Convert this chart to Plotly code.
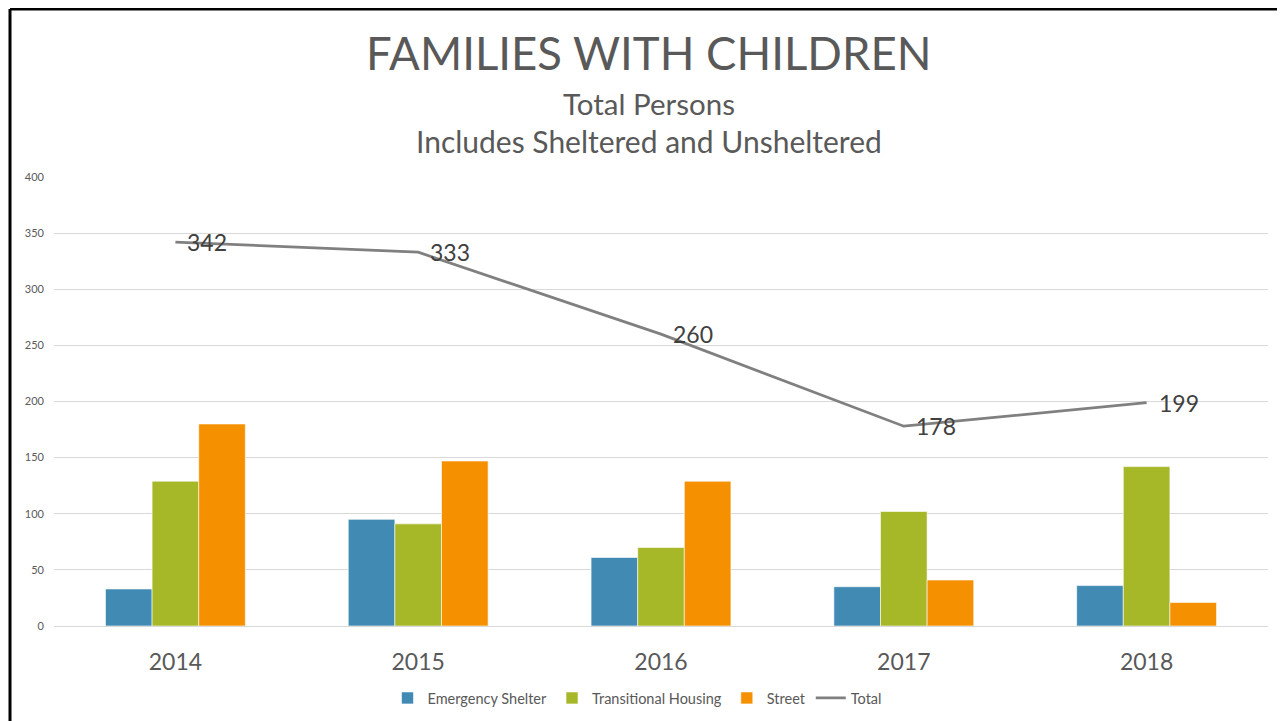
import plotly.graph_objects as go

years = ["2014", "2015", "2016", "2017", "2018"]
emergency_shelter = [33, 95, 61, 35, 36]
transitional_housing = [129, 91, 70, 102, 142]
street = [180, 147, 129, 41, 21]
total = [342, 333, 260, 178, 199]

y_ticks = [0, 50, 100, 150, 200, 250, 300, 350, 400]

FONT = "Lato"
GRAY = "#595959"

fig = go.Figure()
fig.add_trace(go.Bar(name="Emergency Shelter", x=years, y=emergency_shelter,
                     marker=dict(color="#418AB3", line=dict(color="rgba(255,255,255,0.6)", width=1))))
fig.add_trace(go.Bar(name="Transitional Housing", x=years, y=transitional_housing,
                     marker=dict(color="#A6B727", line=dict(color="rgba(255,255,255,0.6)", width=1))))
fig.add_trace(go.Bar(name="Street", x=years, y=street,
                     marker=dict(color="#F59100", line=dict(color="rgba(255,255,255,0.6)", width=1))))
fig.add_trace(go.Scatter(name="Total", x=years, y=total, mode="lines",
                         line=dict(color="#808080", width=2.75)))

# The page body has an 8px margin; work in page coordinates and shift.
OFF = 8
W, H = 1285 - OFF, 721 - OFF
L, R, T, B = 46, 17, 169, 95
pw, ph = W - L - R, H - T - B

def px_to_paper_x(px):
    return (px - OFF - L) / pw

def py_to_paper_y(py):
    return (H - B - (py - OFF)) / ph

annotations = [
    dict(text="FAMILIES WITH CHILDREN", x=px_to_paper_x(648), y=py_to_paper_y(52),
         font=dict(family=FONT, size=45.5, color=GRAY)),
    dict(text="Total Persons", x=px_to_paper_x(648.5), y=py_to_paper_y(103),
         font=dict(family=FONT, size=29.5, color=GRAY)),
    dict(text="Includes Sheltered and Unsheltered", x=px_to_paper_x(648.5), y=py_to_paper_y(141),
         font=dict(family=FONT, size=30, color=GRAY)),
]
for a in annotations:
    a.update(xref="paper", yref="paper", showarrow=False, xanchor="center", yanchor="middle")

# data labels for the Total line (category index positions on the x axis)
for i, v in enumerate(total):
    annotations.append(dict(x=i, y=v, xref="x", yref="y", text=str(v), showarrow=False,
                            xanchor="left", yanchor="middle", xshift=10,
                            font=dict(family=FONT, size=23, color="#404040")))

bx = px_to_paper_x(10)
by = py_to_paper_y(9)
shapes = [
    dict(type="line", xref="paper", yref="paper", x0=bx, x1=bx, y0=-1, y1=by,
         line=dict(color="black", width=3)),
    dict(type="line", xref="paper", yref="paper", x0=bx, x1=2, y0=by, y1=by,
         line=dict(color="black", width=3)),
]

fig.update_layout(
    width=W, height=H,
    margin=dict(l=L, r=R, t=T, b=B, autoexpand=False),
    paper_bgcolor="white", plot_bgcolor="white",
    barmode="group", bargap=0.424, bargroupgap=0,
    annotations=annotations, shapes=shapes,
    legend=dict(orientation="h", x=px_to_paper_x(637), xanchor="center",
                y=py_to_paper_y(698), yanchor="middle",
                font=dict(family=FONT, size=14.5, color=GRAY), traceorder="normal",
                itemwidth=30),
    xaxis=dict(type="category", categoryorder="array", categoryarray=years, range=[-0.5, 4.5],
               showgrid=False, showline=False, ticks="",
               tickfont=dict(family=FONT, size=23, color=GRAY), ticklabelstandoff=20),
    yaxis=dict(range=[0, 400], tickvals=y_ticks, showgrid=True, gridcolor="#d9d9d9", gridwidth=1,
               zeroline=True, zerolinecolor="#d9d9d9", zerolinewidth=1, showline=False, ticks="",
               tickfont=dict(family=FONT, size=11, color=GRAY), ticklabelstandoff=9),
)

fig.write_html("out.html")
